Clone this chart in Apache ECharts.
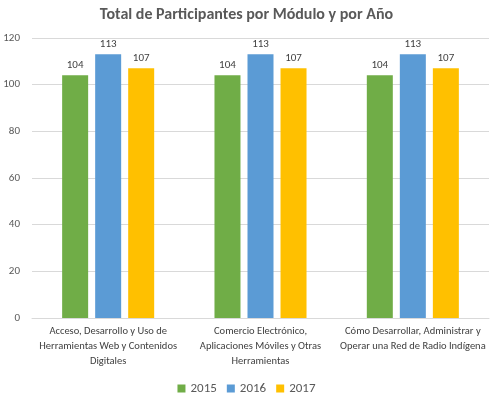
<!DOCTYPE html>
<html><head><meta charset="utf-8">
<script src="https://cdn.jsdelivr.net/npm/echarts@6/dist/echarts.min.js"></script>
<style>html,body{margin:0;padding:0;background:#fff}#c{width:493px;height:395px}</style>
</head><body><div id="c"></div>
<script>
const categories = [
  "Acceso, Desarrollo y Uso de\nHerramientas Web y Contenidos\nDigitales",
  "Comercio Electrónico,\nAplicaciones Móviles y Otras\nHerramientas",
  "Cómo Desarrollar, Administrar y\nOperar una Red de Radio Indígena"
];
const years = ["2015", "2016", "2017"];
const v2015 = [104, 104, 104];
const v2016 = [113, 113, 113];
const v2017 = [107, 107, 107];
const colors = ["#70AD47", "#5B9BD5", "#FFC000"];
const font = "Calibri, Carlito, 'Open Sans', sans-serif";
const chart = echarts.init(document.getElementById('c'));
const mk = (name, data, i) => ({
  name, type: 'bar', data, barWidth: 26, barGap: '27%',
  itemStyle: { color: colors[i] },
  label: { show: true, position: 'top', color: '#404040', fontSize: 11, fontFamily: font, distance: 5 }
});
chart.setOption({
  animation: false,
  title: { text: 'Total de Participantes por Módulo y por Año', left: 'center', top: 2,
    textStyle: { fontSize: 16, fontWeight: 'bold', color: '#595959', fontFamily: font } },
  legend: { top: 377, left: 'center', itemWidth: 8, itemHeight: 8, itemGap: 10, icon: 'rect',
    textStyle: { fontSize: 13, color: '#595959', fontFamily: font } },
  grid: { left: 32, right: 4, top: 38, bottom: 77 },
  xAxis: { type: 'category', data: categories,
    axisLine: { lineStyle: { color: '#D9D9D9' } }, axisTick: { show: false },
    axisLabel: { color: '#404040', fontSize: 10.5, fontFamily: font, interval: 0, lineHeight: 15, margin: 6 } },
  yAxis: { type: 'value', min: 0, max: 120, interval: 20,
    axisLine: { show: false }, axisTick: { show: false },
    splitLine: { lineStyle: { color: '#D9D9D9' } },
    axisLabel: { color: '#595959', fontSize: 11, fontFamily: font, margin: 12 } },
  series: [mk(years[0], v2015, 0), mk(years[1], v2016, 1), mk(years[2], v2017, 2)]
});
</script></body></html>
